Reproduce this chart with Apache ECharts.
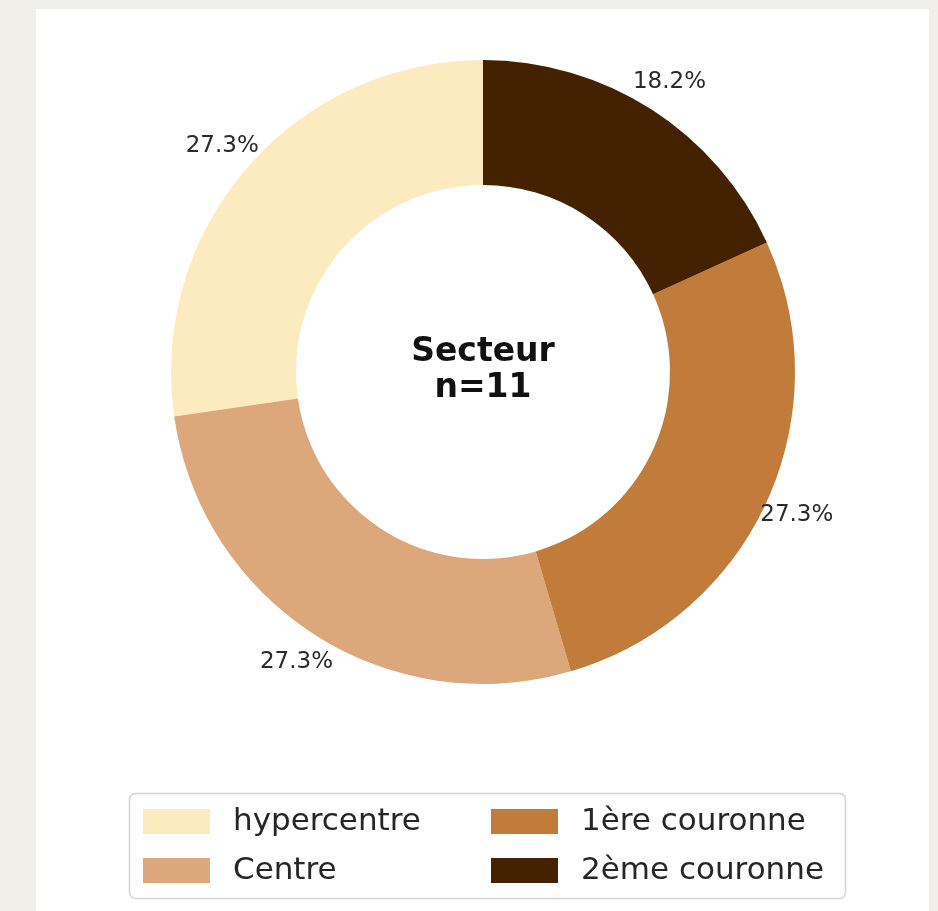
<!DOCTYPE html>
<html>
<head>
<meta charset="utf-8">
<script src="https://cdn.jsdelivr.net/npm/echarts@6/dist/echarts.min.js"></script>
<style>
html,body{margin:0;padding:0;background:#f0efea;}
#panel{position:absolute;left:36px;top:9px;width:893px;height:902px;background:#ffffff;}
#chart{position:absolute;left:0;top:0;width:938px;height:911px;}
</style>
</head>
<body>
<div id="panel"></div>
<div id="chart"></div>
<script>
const categories = ['hypercentre', 'Centre', '1ère couronne', '2ème couronne'];
const counts = [3, 3, 3, 2];
const colors = ['#fdebc0', '#dca77a', '#c17c3b', '#442100'];
const centerTitle = 'Secteur\nn=11';

const chart = echarts.init(document.getElementById('chart'), null, {renderer: 'canvas'});
const pieData = categories.map((c, i) => ({name: c, value: counts[i], itemStyle: {color: colors[i]}}));
const total = counts.reduce((a, b) => a + b, 0);

const legendCommon = {
  orient: 'vertical',
  icon: 'rect',
  itemWidth: 67,
  itemHeight: 25,
  itemGap: 18,
  selectedMode: false,
  textStyle: {fontFamily: 'DejaVu Sans', fontSize: 31, color: '#262626', lineHeight: 30, padding: [0, 0, 0, 18]}
};

chart.setOption({
  backgroundColor: 'transparent',
  animation: false,
  legend: [
    Object.assign({}, legendCommon, {data: [categories[0], categories[1]], left: 138, top: 801}),
    Object.assign({}, legendCommon, {data: [categories[2], categories[3]], left: 486, top: 801})
  ],
  graphic: [
    {type: 'rect', shape: {x: 129.5, y: 793.5, width: 716, height: 105, r: 6}, style: {fill: '#ffffff', stroke: '#d4d4d4', lineWidth: 1.5}, z: -1},
    {type: 'text', x: 483, y: 370, style: {text: centerTitle, fontFamily: 'DejaVu Sans', fontWeight: 'bold', fontSize: 33, lineHeight: 36, fill: '#111', align: 'center', verticalAlign: 'middle'}}
  ],
  series: [
    {
      type: 'pie',
      center: [483, 372],
      radius: [187, 312],
      startAngle: 90,
      clockwise: false,
      label: {show: false},
      labelLine: {show: false},
      emphasis: {disabled: true},
      itemStyle: {borderWidth: 0},
      data: pieData
    },
    {
      type: 'pie',
      center: [483, 372],
      radius: [331, 353],
      startAngle: 90,
      clockwise: false,
      silent: true,
      legendHoverLink: false,
      emphasis: {disabled: true},
      itemStyle: {color: 'rgba(0,0,0,0)', borderWidth: 0},
      label: {
        show: true,
        position: 'inside',
        fontFamily: 'DejaVu Sans',
        fontSize: 23,
        color: '#2a2a2a',
        formatter: p => (p.value / total * 100).toFixed(1) + '%'
      },
      labelLine: {show: false},
      data: categories.map((c, i) => ({name: c + ' ', value: counts[i]}))
    }
  ]
});
</script>
</body>
</html>
